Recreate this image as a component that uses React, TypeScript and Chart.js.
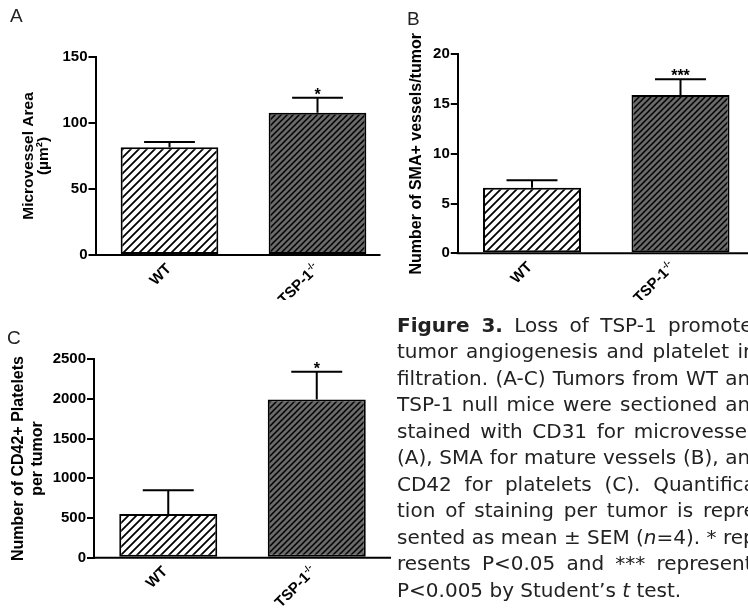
import React, { useEffect, useRef } from "react";
import { Chart, registerables } from "chart.js";

Chart.register(...registerables);

// ---- data ----
const categories = ["WT", "TSP-1"];
const categorySup = ["", "-/-"];

const areaMeans = [81.6, 107.8];
const areaSem = [4.0, 11.4];
const areaStars = ["", "*"];
const areaMax = 150;
const areaStep = 50;

const smaMeans = [6.6, 15.9];
const smaSem = [0.75, 1.6];
const smaStars = ["", "***"];
const smaMax = 20;
const smaStep = 5;

const cd42Means = [550, 1995];
const cd42Sem = [300, 348];
const cd42Stars = ["", "*"];
const cd42Max = 2500;
const cd42Step = 500;

const captionLines = [
  "Loss of TSP-1 promotes",
  "tumor angiogenesis and platelet in-",
  "filtration. (A-C) Tumors from WT and",
  "TSP-1 null mice were sectioned and",
  "stained with CD31 for microvessels",
  "(A), SMA for mature vessels (B), and",
  "CD42 for platelets (C). Quantifica-",
  "tion of staining per tumor is repre-",
  "sented as mean \u00b1 SEM (n=4). * rep-",
  "resents P<0.05 and *** represents",
  "P<0.005 by Student\u2019s t test.",
];

const FONT = "'Liberation Sans', Arial, sans-serif";

function hatch(bg: string, size: number, lw: number): CanvasPattern {
  const c = document.createElement("canvas");
  c.width = size;
  c.height = size;
  const g = c.getContext("2d")!;
  g.fillStyle = bg;
  g.fillRect(0, 0, size, size);
  g.strokeStyle = "#000";
  g.lineWidth = lw;
  g.beginPath();
  g.moveTo(-1, size + 1);
  g.lineTo(size + 1, -1);
  g.moveTo(-size / 2 - 1, size / 2 + 1);
  g.lineTo(size / 2 + 1, -size / 2 - 1);
  g.moveTo(size / 2 - 1, size * 1.5 + 1);
  g.lineTo(size * 1.5 + 1, size / 2 - 1);
  g.stroke();
  return g.createPattern(c, "repeat")!;
}

type PanelProps = {
  left: number;
  top: number;
  width: number;
  height: number;
  clip: number;
  means: number[];
  sems: number[];
  stars: string[];
  max: number;
  step: number;
  titleLines: string[];
  titleX: number[];
  titleSize: number;
  yAxisWidth: number;
  xAxisHeight: number;
  padTop: number;
  padRight: number;
  labelDx: number[];
  axisTrim: number;
};

function Panel(p: PanelProps) {
  const ref = useRef<HTMLCanvasElement>(null);
  useEffect(() => {
    const canvas = ref.current!;
    const patWT = hatch("#ffffff", 8, 1.8);
    const patKO = hatch("#6a6a6a", 6, 1.5);
    const overlay = {
      id: "overlay",
      beforeDatasetsDraw(chart: any) {
        const ctx = chart.ctx;
        const area = chart.chartArea;
        ctx.save();
        ctx.strokeStyle = "#000";
        ctx.lineWidth = 2;
        ctx.beginPath();
        ctx.moveTo(area.left - 1, area.bottom);
        ctx.lineTo(area.right - p.axisTrim, area.bottom);
        ctx.stroke();
        ctx.restore();
      },
      afterDatasetsDraw(chart: any) {
        const ctx = chart.ctx;
        const ys = chart.scales.y;
        const meta = chart.getDatasetMeta(0);
        ctx.save();
        meta.data.forEach((bar: any, i: number) => {
          const x = bar.x;
          const w = bar.width;
          const t = ys.getPixelForValue(p.means[i]);
          const e = ys.getPixelForValue(p.means[i] + p.sems[i]);
          ctx.strokeStyle = "#000";
          ctx.lineWidth = 2;
          ctx.beginPath();
          ctx.moveTo(x, t);
          ctx.lineTo(x, e);
          ctx.moveTo(x - w * 0.26, e);
          ctx.lineTo(x + w * 0.26, e);
          ctx.stroke();
          if (p.stars[i]) {
            ctx.fillStyle = "#000";
            ctx.font = `bold 16px ${FONT}`;
            ctx.textAlign = "center";
            ctx.textBaseline = "alphabetic";
            ctx.fillText(p.stars[i], x, e + 2);
          }
        });
        ctx.restore();
      },
      afterDraw(chart: any) {
        const ctx = chart.ctx;
        const area = chart.chartArea;
        const xs = chart.scales.x;
        ctx.save();
        ctx.fillStyle = "#000";
        categories.forEach((lab, i) => {
          const cx = xs.getPixelForValue(i);
          ctx.save();
          ctx.translate(cx + p.labelDx[i], area.bottom + 14.5);
          ctx.rotate(-Math.PI / 4);
          ctx.textBaseline = "alphabetic";
          ctx.textAlign = "left";
          ctx.font = `bold 15px ${FONT}`;
          const mw = ctx.measureText(lab).width;
          ctx.font = `bold 9px ${FONT}`;
          const sw = categorySup[i] ? ctx.measureText(categorySup[i]).width : 0;
          ctx.font = `bold 15px ${FONT}`;
          ctx.fillText(lab, -(mw + sw), 0);
          if (categorySup[i]) {
            ctx.font = `bold 9px ${FONT}`;
            ctx.fillText(categorySup[i], -sw, -6);
          }
          ctx.restore();
        });
        const cy = (area.top + area.bottom) / 2;
        p.titleLines.forEach((line, i) => {
          ctx.save();
          ctx.translate(p.titleX[i], cy);
          ctx.rotate(-Math.PI / 2);
          ctx.font = `bold ${p.titleSize}px ${FONT}`;
          ctx.textAlign = "center";
          ctx.textBaseline = "alphabetic";
          ctx.fillText(line, 0, 0);
          ctx.restore();
        });
        ctx.restore();
      },
    };
    const chart = new Chart(canvas, {
      type: "bar",
      data: {
        labels: categories,
        datasets: [
          {
            data: p.means,
            backgroundColor: [patWT, patKO],
            borderColor: "#000",
            borderWidth: 2,
            borderSkipped: false,
            barPercentage: 0.66,
            categoryPercentage: 1,
          },
        ],
      },
      options: {
        animation: false,
        responsive: true,
        maintainAspectRatio: false,
        layout: { padding: { left: 0, top: p.padTop, right: p.padRight, bottom: 0 } },
        plugins: { legend: { display: false }, tooltip: { enabled: false } },
        scales: {
          x: {
            grid: { display: false },
            border: { display: false },
            ticks: { display: false },
            afterFit: (s: any) => {
              s.height = p.xAxisHeight;
            },
          },
          y: {
            min: 0,
            max: p.max,
            ticks: {
              stepSize: p.step,
              color: "#000",
              font: { family: FONT, size: 15, weight: "bold" },
              padding: 1,
              callback: (v: any) => String(v),
            },
            grid: { drawOnChartArea: false, color: "#000", lineWidth: 2, tickLength: 7 },
            border: { display: true, color: "#000", width: 2 },
            afterFit: (s: any) => {
              s.width = p.yAxisWidth;
            },
          },
        },
      } as any,
      plugins: [overlay],
    });
    return () => chart.destroy();
  }, []);
  return (
    <div
      style={{
        position: "absolute",
        left: p.left,
        top: p.top,
        width: p.clip,
        height: p.height,
        overflow: "hidden",
      }}
    >
      <div style={{ position: "relative", width: p.width, height: p.height }}>
        <canvas ref={ref} />
      </div>
    </div>
  );
}

const letterStyle: React.CSSProperties = {
  position: "absolute",
  fontFamily: FONT,
  fontSize: 19,
  color: "#222",
  lineHeight: "20px",
};

export default function App() {
  return (
    <div
      style={{
        position: "absolute",
        left: 0,
        top: 0,
        width: 748,
        height: 611,
        overflow: "hidden",
        background: "#fff",
      }}
    >
      <Panel
        left={0}
        top={0}
        width={400}
        height={300}
        clip={400}
        means={areaMeans}
        sems={areaSem}
        stars={areaStars}
        max={areaMax}
        step={areaStep}
        titleLines={["Microvessel Area", "(\u00b5m\u00b2)"]}
        titleX={[33, 48]}
        titleSize={15.5}
        yAxisWidth={95.5}
        xAxisHeight={45}
        padTop={57}
        padRight={8.5}
        labelDx={[2.5, 2.5]}
        axisTrim={11}
      />
      <Panel
        left={370}
        top={0}
        width={390}
        height={300}
        clip={378}
        means={smaMeans}
        sems={smaSem}
        stars={smaStars}
        max={smaMax}
        step={smaStep}
        titleLines={["Number of SMA+ vessels/tumor"]}
        titleX={[51]}
        titleSize={16}
        yAxisWidth={87.75}
        xAxisHeight={46.7}
        padTop={54.3}
        padRight={5.25}
        labelDx={[1, -5]}
        axisTrim={0}
      />
      <Panel
        left={0}
        top={300}
        width={400}
        height={311}
        clip={400}
        means={cd42Means}
        sems={cd42Sem}
        stars={cd42Stars}
        max={cd42Max}
        step={cd42Step}
        titleLines={["Number of CD42+ Platelets", "per tumor"]}
        titleX={[23, 42]}
        titleSize={16}
        yAxisWidth={94}
        xAxisHeight={53.3}
        padTop={59.3}
        padRight={9}
        labelDx={[0, 0]}
        axisTrim={0}
      />
      <div style={{ ...letterStyle, left: 10, top: 6 }}>A</div>
      <div style={{ ...letterStyle, left: 407, top: 9 }}>B</div>
      <div style={{ ...letterStyle, left: 7, top: 328 }}>C</div>
      <div
        style={{
          position: "absolute",
          left: 397,
          top: 311.5,
          width: 351,
          overflow: "hidden",
        }}
      >
        {captionLines.map((line, i) => {
          const last = i === captionLines.length - 1;
          let content: React.ReactNode = line;
          if (i === 0) {
            content = (
              <>
                <b>Figure 3.</b> {line}
              </>
            );
          } else if (i === 8) {
            content = (
              <>
                sented as mean {"\u00b1"} SEM (<i>n</i>=4). * rep-
              </>
            );
          } else if (last) {
            content = (
              <>
                P&lt;0.005 by Student{"\u2019"}s <i>t</i> test.
              </>
            );
          }
          return (
            <div
              key={i}
              style={{
                width: 366,
                height: 26.5,
                fontFamily: "'DejaVu Sans', sans-serif",
                fontSize: 20,
                lineHeight: "26.5px",
                color: "#222",
                textAlign: last ? "left" : "justify",
                textAlignLast: last ? "left" : "justify",
                whiteSpace: "nowrap",
                overflow: "hidden",
              }}
            >
              {content}
            </div>
          );
        })}
      </div>
    </div>
  );
}
